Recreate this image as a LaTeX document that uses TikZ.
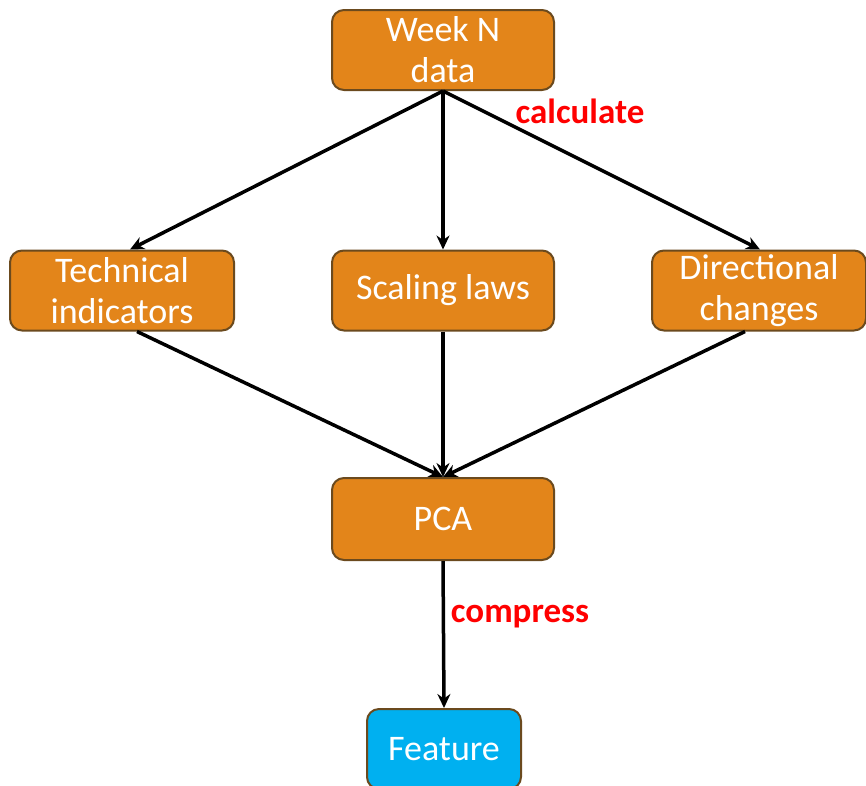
\documentclass[tikz,border=0pt]{standalone}
\usepackage{fontspec}
\setmainfont{Carlito}
\usetikzlibrary{arrows.meta}
\definecolor{boxorange}{HTML}{E3851A}
\definecolor{boxedge}{HTML}{6B4A1E}
\definecolor{boxcyan}{HTML}{00B0F0}
\definecolor{lblred}{HTML}{FF0000}
\tikzset{
  procbox/.style={draw=boxedge, line width=2pt, fill=boxorange, rounded corners=12pt,
    text=white, align=center, inner sep=0pt, minimum height=80pt,
    font=\fontsize{36}{41}\selectfont},
  featbox/.style={procbox, fill=boxcyan},
  conn/.style={line width=3.5pt, -{Stealth[length=14pt,width=13pt]}},
  lbl/.style={text=lblred, font=\fontsize{35}{38}\selectfont\bfseries, inner sep=0pt}
}
\begin{document}
\begin{tikzpicture}[x=1pt,y=-1pt]
\useasboundingbox (0,0) rectangle (866,785);
\node[procbox, minimum width=222pt] (wk) at (443,50) {Week N\\data};
\node[procbox, minimum width=224pt] (tech) at (122,290.5) {Technical\\indicators};
\node[procbox, minimum width=222pt] (scal) at (443,290.5) {Scaling laws};
\node[procbox, minimum width=214pt] (dir) at (759,290.5) {Directional\\changes};
\node[procbox, minimum width=222pt, minimum height=82pt] (pca) at (443,519) {PCA};
\node[featbox, minimum width=154pt] (feat) at (444,749) {Feature};
\draw[conn] (wk.south) -- ([xshift=8pt]tech.north);
\draw[conn] (wk.south) -- (scal.north);
\draw[conn] (wk.south) -- ([xshift=1pt]dir.north);
\draw[conn] ([xshift=15pt]tech.south) -- (pca.north);
\draw[conn] (scal.south) -- (pca.north);
\draw[conn] ([xshift=-14pt]dir.south) -- (pca.north);
\draw[conn] (pca.south) -- (feat.north);
\node[lbl] (calc) at (580,111) {calculate};
\node[lbl] (comp) at (520,617) {compress};
\end{tikzpicture}
\end{document}
